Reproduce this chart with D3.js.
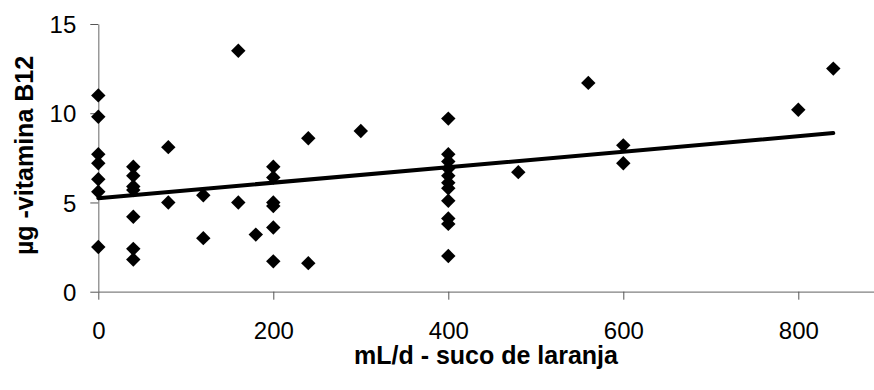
<!DOCTYPE html>
<html><head><meta charset="utf-8">
<script src="https://cdn.jsdelivr.net/npm/d3@7"></script>
<style>body{margin:0;background:#fff}svg{display:block}text{font-family:"Liberation Sans",Arial,sans-serif}</style>
</head><body><svg id="c" width="874" height="390"></svg>
<script>
// data: x = mL/d orange juice, y = µg vitamin B12
const xValues = [0,0,0,0,0,0,0, 40,40,40,40,40,40,40, 80,80, 120,120, 160,160, 180,
  200,200,200,200,200,200, 240,240, 300,
  400,400,400,400,400,400,400,400,400,400,400, 480, 560, 600,600, 800, 840];
const yValues = [11.0,9.8,7.7,7.2,6.3,5.6,2.5, 7.0,6.5,5.9,5.7,4.2,2.4,1.8, 8.1,5.0, 5.4,3.0, 13.5,5.0, 3.2,
  7.0,6.4,5.0,4.8,3.6,1.7, 8.6,1.6, 9.0,
  9.7,7.7,7.3,6.9,6.5,6.1,5.8,5.1,4.1,3.8,2.0, 6.7, 11.7, 8.2,7.2, 10.2, 12.5];
const xTicks = [0,200,400,600,800];
const yTicks = [0,5,10,15];
const xTitle = "mL/d - suco de laranja";
const yTitle = "µg -vitamina B12";

const svg = d3.select("#c");
const x = d3.scaleLinear().domain([0,900]).range([98.3, 98.3 + 787.5]);
const y = d3.scaleLinear().domain([0,15]).range([291.7, 24]);

// axes
const gx = svg.append("g").attr("transform", `translate(0,${y(0)})`)
  .call(d3.axisBottom(x).tickValues(xTicks).tickSize(8).tickPadding(26).tickSizeOuter(0));
const gy = svg.append("g").attr("transform", `translate(${x(0)},0)`)
  .call(d3.axisLeft(y).tickValues(yTicks).tickSize(8).tickPadding(14).tickSizeOuter(0));
[gx, gy].forEach(g => {
  g.select(".domain").attr("stroke", "#808080").attr("stroke-width", 1.2);
  g.selectAll(".tick line").attr("stroke", "#555");
  g.selectAll(".tick text").attr("fill", "#000").attr("font-size", 24)
    .attr("font-family", "'Liberation Sans', Arial, sans-serif");
});
gx.selectAll(".tick text").attr("dy", null).attr("y", 47);
gy.selectAll(".tick text").attr("dy", "0.36em");

// regression line (least squares fit of the points)
const pts = xValues.map((v,i) => [v, yValues[i]]);
const mx = d3.mean(xValues), my = d3.mean(yValues);
const sxy = d3.sum(pts, p => (p[0]-mx)*(p[1]-my));
const sxx = d3.sum(pts, p => (p[0]-mx)*(p[0]-mx));
const slope = sxy / sxx, intercept = my - slope*mx;
const ext = d3.extent(xValues);
svg.append("line")
  .attr("x1", x(ext[0])).attr("y1", y(intercept + slope*ext[0]))
  .attr("x2", x(ext[1])).attr("y2", y(intercept + slope*ext[1]))
  .attr("stroke", "#000").attr("stroke-width", 4).attr("stroke-linecap", "round");

// points
const sym = d3.symbol(d3.symbolSquare, 104);
svg.append("g").selectAll("path").data(pts).join("path")
  .attr("d", sym)
  .attr("transform", d => `translate(${x(d[0])},${y(d[1])}) rotate(45)`)
  .attr("fill", "#000");

// titles
svg.append("text").attr("x", 486).attr("y", 364).attr("text-anchor", "middle")
  .attr("font-size", 25).attr("font-weight", "bold").text(xTitle);
svg.append("text").attr("transform", "translate(33,155.5) rotate(-90)").attr("text-anchor", "middle")
  .attr("font-size", 25).attr("font-weight", "bold").text(yTitle);
</script></body></html>
